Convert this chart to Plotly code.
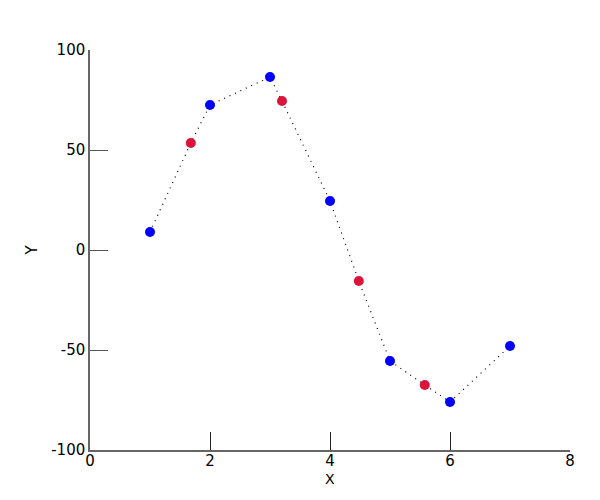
import plotly.graph_objects as go

blue_x = [1, 2, 3, 4, 5, 6, 7]
blue_y = [9, 72.5, 86.5, 24.5, -55.5, -76, -48]
red_x = [1.68, 3.2, 4.48, 5.58]
red_y = [53.5, 74.5, -15.5, -67.5]

x_ticks = [0, 2, 4, 6, 8]
y_ticks = [-100, -50, 0, 50, 100]
y_tick_text = ["-100", "-50", "0", "50", "100"]

pts = sorted(zip(blue_x + red_x, blue_y + red_y))
line_x = [p[0] for p in pts]
line_y = [p[1] for p in pts]

fig = go.Figure()
fig.add_trace(go.Scatter(x=line_x, y=line_y, mode="lines",
                         line=dict(color="black", width=1.2, dash="1px,5px"),
                         showlegend=False, hoverinfo="skip"))
fig.add_trace(go.Scatter(x=blue_x, y=blue_y, mode="markers",
                         marker=dict(color="#0000ff", size=10), showlegend=False))
fig.add_trace(go.Scatter(x=red_x, y=red_y, mode="markers",
                         marker=dict(color="#dc143c", size=10), showlegend=False))

axis_common = dict(showgrid=False, zeroline=False, showline=True, linecolor="#666666",
                   linewidth=1.5, ticks="inside", ticklen=18,
                   tickwidth=1, tickfont=dict(size=15, color="black"))
fig.update_xaxes(range=[0, 8], tickvals=x_ticks, tickcolor="#222222",
                 ticklabelstandoff=-4, **axis_common)
fig.update_yaxes(range=[-100, 100], tickvals=y_ticks, ticktext=y_tick_text, tickcolor="#555555",
                 title=dict(text="Y", font=dict(size=15), standoff=10),
                 **axis_common)
fig.add_annotation(text="X", xref="paper", yref="paper", x=0.5, y=0, yshift=-29,
                   xanchor="center", yanchor="middle", showarrow=False,
                   font=dict(size=14, color="black"))
# the page body adds an 8px offset, compensated in the margins
fig.update_layout(width=600, height=500, margin=dict(l=82, r=38, t=42, b=58),
                  plot_bgcolor="white", paper_bgcolor="white",
                  font=dict(family="DejaVu Sans", color="black"))
fig.write_html("out.html")
